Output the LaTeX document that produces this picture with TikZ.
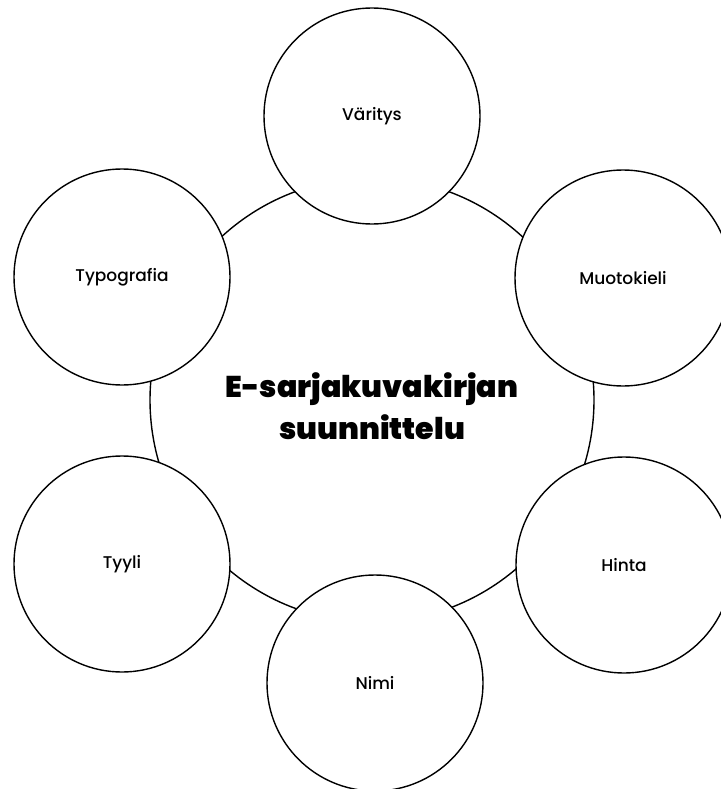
\documentclass[tikz,border=0pt]{standalone}
\usepackage{fontspec}
\setmainfont{Poppins Medium}
\newfontfamily\titlefont{Poppins Black}
\usetikzlibrary{positioning}

\begin{document}
\begin{tikzpicture}[
		x=1pt, y=-1pt,
		line width=1.4pt,
		ring/.style = {circle, draw, inner sep=0pt},
		hub/.style = {ring, minimum size=444pt},
		headline/.style = {font=\titlefont\fontsize{30}{42}\selectfont, align=center, yshift=-6pt},
		topic/.style = {ring, minimum size=216pt, fill=white, font=\fontsize{17}{20}\selectfont}
		]
		\useasboundingbox (0,0) rectangle (720,789);
		\node[hub, label={[headline]center:E-sarjakuvakirjan\\suunnittelu}] (C) at (372,400) {};
		% aiheet kehän ympärillä
		\node[topic] (V) at (372,116) {Väritys};
		\node[topic] (M) at (623,278) {Muotokieli};
		\node[topic] (H) at (624,565) {Hinta};
		\node[topic] (N) at (375,683) {Nimi};
		\node[topic] (Ty) at (122,564) {Tyyli};
		\node[topic] (Tp) at (122,277) {Typografia};
\end{tikzpicture}
\end{document}
